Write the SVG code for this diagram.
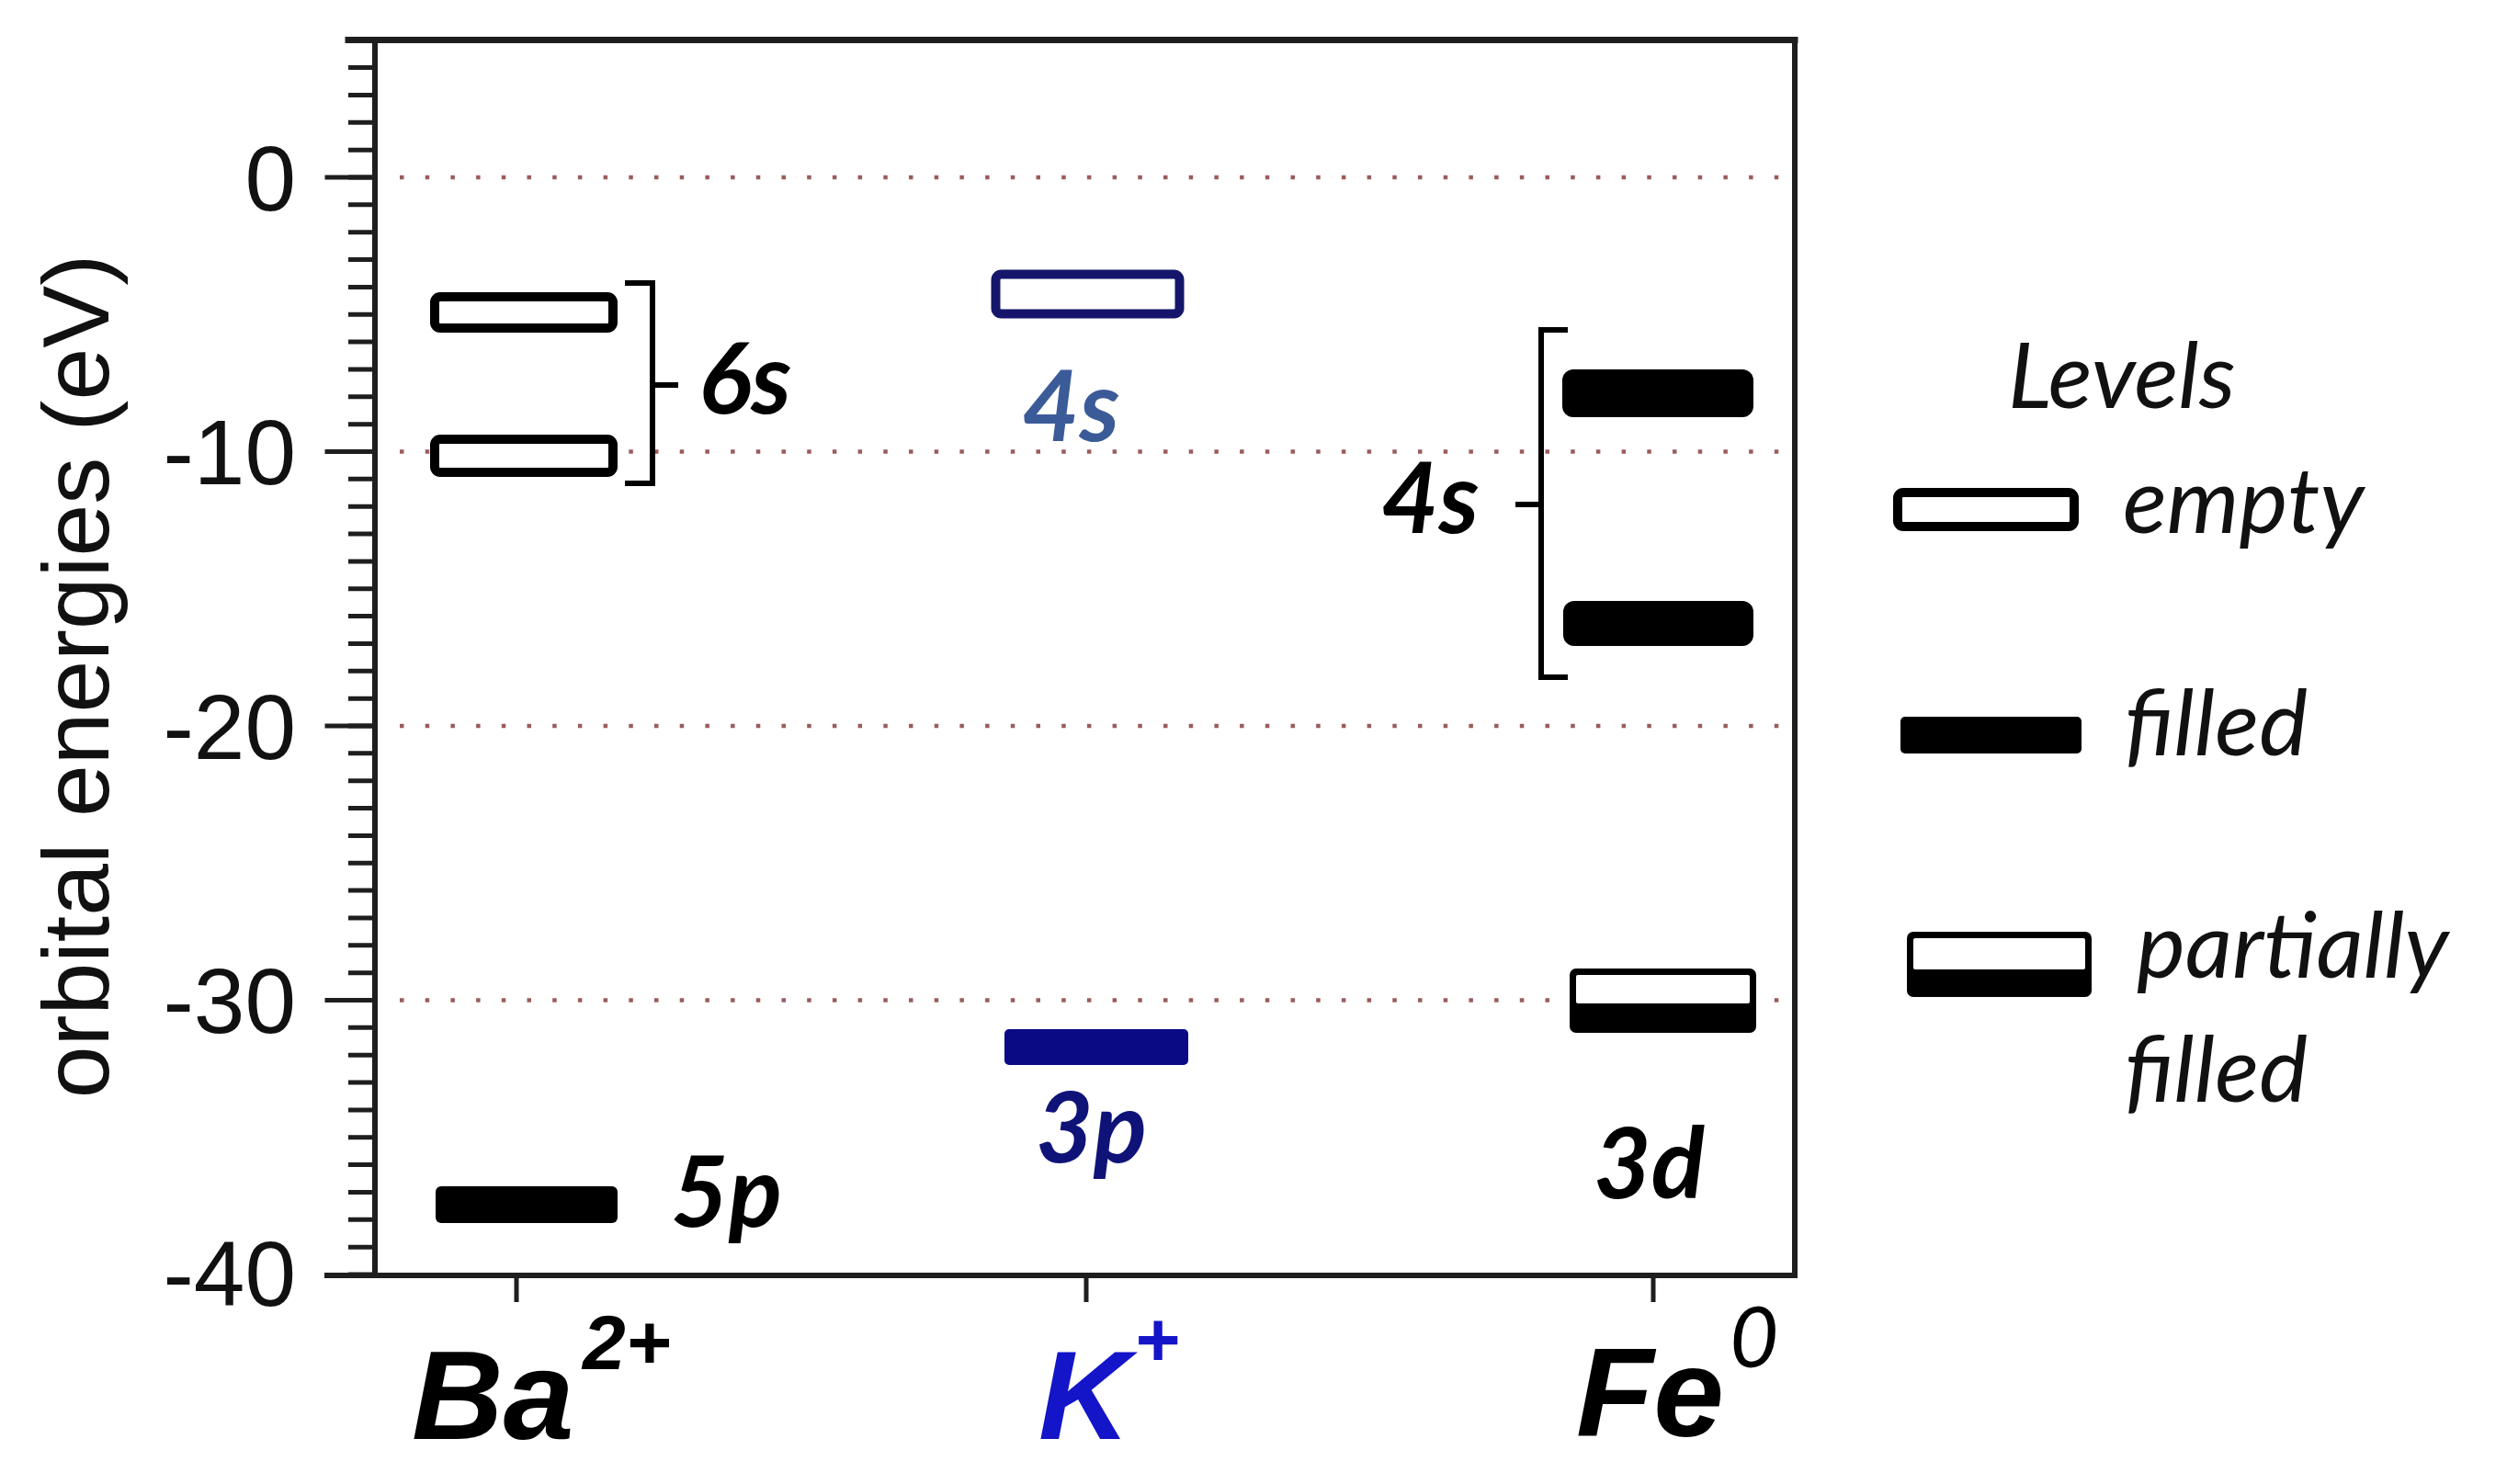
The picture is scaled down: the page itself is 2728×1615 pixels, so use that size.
<svg xmlns="http://www.w3.org/2000/svg" width="2728" height="1615" viewBox="0 0 2728 1615">
  <style>
    .ax { stroke: #1e1e1e; fill: none; stroke-linecap: square; }
    .grid { stroke: #9a5c5c; stroke-width: 4.5; fill: none; stroke-dasharray: 4.5 23.2; }
    .tick { font-family: "Liberation Sans", Arial, sans-serif; font-size: 100px; fill: #111; text-anchor: end; }
    .ylab { font-family: "Liberation Sans", Arial, sans-serif; font-size: 102px; fill: #111; text-anchor: middle; }
    .ion { font-family: "Liberation Sans", Arial, sans-serif; font-weight: bold; font-style: italic; font-size: 138px; }
    .sup { font-size: 84px; }
    .orb { font-family: Lato, "Open Sans", sans-serif; font-weight: bold; font-style: italic; font-size: 108px; fill: #000; }
    .leg { font-family: Lato, "Open Sans", sans-serif; font-style: italic; font-size: 100px; fill: #111; }
    .empty { fill: #fff; stroke: #000; stroke-width: 10; }
    .filled { fill: #000; }
    .br { stroke: #000; stroke-width: 6; fill: none; }
  </style>

  <rect width="2728" height="1615" fill="#fff"/>

  <!-- gridlines -->
  <g id="gridlines">
    <path class="grid" d="M435 193H1950 M435 491.5H1950 M435 790H1950 M435 1088.5H1950"/>
  </g>

  <!-- axes -->
  <g id="axes">
    <line class="ax" x1="393.5" y1="41.25" x2="393.5" y2="1390" stroke-width="29" style="stroke-dasharray:5 24.85;stroke-linecap:butt"/>
    <path class="ax" stroke-width="5" d="M356 193H408 M356 491.5H408 M356 790H408 M356 1088.5H408"/>
    <path class="ax" stroke-width="7" d="M379 43.5H1953"/>
    <path class="ax" stroke-width="6" d="M408 43.5V1388 M1953 43.5V1388 M356 1388H1953"/>
    <path class="ax" stroke-width="5" style="stroke-linecap:butt" d="M562 1388V1417 M1182 1388V1417 M1799 1388V1417"/>
    <text class="tick" x="322" y="229">0</text>
    <text class="tick" x="322" y="527">-10</text>
    <text class="tick" x="322" y="826">-20</text>
    <text class="tick" x="322" y="1124">-30</text>
    <text class="tick" x="322" y="1421">-40</text>
    <text class="ylab" x="118" y="736" transform="rotate(-90 118 736)">orbital energies (eV)</text>
  </g>

  <!-- Ba2+ -->
  <g id="ba-6s-upper"><rect class="empty" x="473" y="323" width="194" height="34" rx="6"/></g>
  <g id="ba-6s-lower"><rect class="empty" x="473" y="478" width="194" height="36" rx="6"/></g>
  <g id="ba-5p"><rect class="filled" x="474" y="1291" width="198" height="40" rx="6"/></g>
  <g id="ba-labels">
    <text class="orb" x="760" y="450">6s</text>
    <text class="orb" x="730" y="1335">5p</text>
  </g>
  <g id="ba-ion">
    <text class="ion" x="448" y="1566" fill="#000">Ba<tspan class="sup" x="634" y="1490">2+</tspan></text>
  </g>

  <!-- K+ -->
  <g id="k-4s"><rect x="1083.5" y="298.5" width="200" height="43" rx="6" fill="#fff" stroke="#15166b" stroke-width="10"/></g>
  <g id="k-3p"><rect x="1093" y="1120" width="200" height="39" rx="5" fill="#0a0a85"/></g>
  <g id="k-labels">
    <text class="orb" x="1112" y="480" style="fill:#3b5b98">4s</text>
    <text class="orb" x="1127" y="1265" style="fill:#0f1378">3p</text>
  </g>
  <g id="k-ion">
    <text class="ion" x="1130" y="1566" fill="#1414c8">K<tspan class="sup" x="1234" y="1487">+</tspan></text>
  </g>

  <!-- Fe0 -->
  <g id="fe-4s-upper"><rect class="filled" x="1700" y="402" width="208" height="52" rx="12"/></g>
  <g id="fe-4s-lower"><rect class="filled" x="1701" y="654" width="207" height="49" rx="12"/></g>
  <g id="fe-3d">
    <rect class="filled" x="1708" y="1054" width="203" height="70" rx="7"/>
    <rect x="1715" y="1061" width="189" height="31" rx="2" fill="#fff"/>
  </g>
  <g id="fe-labels">
    <text class="orb" x="1503" y="580">4s</text>
    <text class="orb" x="1734" y="1304">3d</text>
  </g>
  <g id="fe-ion">
    <text class="ion" x="1715" y="1563" fill="#000">Fe</text>
    <text x="1882" y="1488" font-family="Lato, 'Open Sans', sans-serif" font-style="italic" font-size="92" fill="#000">0</text>
  </g>

  <!-- brackets -->
  <g id="connectors">
    <path class="br" d="M680 308H710V526H680 M710 419H738"/>
    <path class="br" d="M1706 359H1677V737H1706 M1677 549H1649"/>
  </g>

  <!-- legend -->
  <g id="legend">
    <text class="leg" x="2185" y="444">Levels</text>
    <g id="legend-empty">
      <rect class="empty" x="2065" y="536" width="192" height="37" rx="6"/>
      <text class="leg" x="2310" y="580">empty</text>
    </g>
    <g id="legend-filled">
      <rect class="filled" x="2068" y="780" width="197" height="40" rx="5"/>
      <text class="leg" x="2312" y="822">filled</text>
    </g>
    <g id="legend-partial">
      <rect class="filled" x="2075" y="1014" width="201" height="71" rx="7"/>
      <rect x="2082" y="1021" width="187" height="34" rx="2" fill="#fff"/>
      <text class="leg" x="2325" y="1064">partially</text>
      <text class="leg" x="2312" y="1199">filled</text>
    </g>
  </g>
</svg>
